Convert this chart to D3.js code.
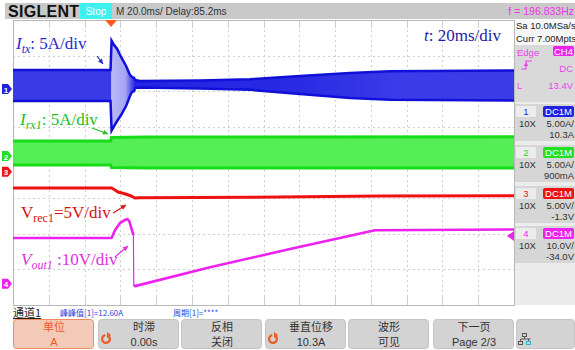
<!DOCTYPE html>
<html><head><meta charset="utf-8">
<script src="https://cdn.jsdelivr.net/npm/d3@7"></script>
<style>
html,body{margin:0;padding:0;background:#fff;}
svg{display:block;}
</style></head>
<body>
<svg id="scope" width="575" height="350"></svg>
<script>
// ---- acquisition settings ----
const timeDomain = [-54.8, 225.2];          // ms, trigger at t = 0 (20 ms/div, 14 div)
const timePerDiv = 20;
const channelIds = ["1", "2", "3", "4"];
const channelScales = [5, 5, 5, 10];        // units per division
const channelOffsets = [10.3, 0.9, -1.3, -34.0];
const channelColors = ["#2121e0", "#22e022", "#ee1111", "#ee22ee"];
const channelScaleText = ["5.00A/", "5.00A/", "5.00V/", "10.0V/"];
const channelOffsetText = ["10.3A", "900mA", "-1.3V", "-34.0V"];
const triggerLevel = 13.4;                  // V on CH4

// ---- CH1: Itx envelope (A) ----
const itxTime  = [-54.8, -0.3, 0.3, 1.7, 3.4, 5.6, 8.4, 10.6, 11.7, 12.9, 13.4, 16.2, 49.7, 77.7, 105.6, 133.6, 155.9, 225.2];
const itxUpper = [2.68, 2.68, 6.8, 6.19, 5.63, 4.51, 3.25, 1.98, 1.70, 1.56, 1.28, 1.14, 1.20, 1.40, 1.85, 2.25, 2.50, 2.60];
const itxLower = [-1.67, -1.67, -5.8, -5.18, -4.48, -3.64, -2.37, -0.97, -0.41, -0.27, 0.15, 0.22, 0.10, -0.10, -0.70, -1.25, -1.50, -1.60];

// ---- CH2: Irx1 envelope (A) ----
const irxTime  = [-54.8, -0.2, 0.2, 20.0, 225.2];
const irxUpper = [2.12, 2.12, 2.60, 2.68, 2.72];
const irxLower = [-1.25, -1.25, -1.60, -1.67, -1.67];

// ---- CH3: Vrec1 (V) ----
const vrecTime  = [-54.8, 0.3, 2.2, 3.9, 6.1, 8.9, 11.2, 12.3, 13.4, 16.2, 77.7, 150.3, 225.2];
const vrecValue = [-2.28, -2.28, -2.56, -2.84, -2.98, -3.19, -3.40, -3.54, -3.68, -3.65, -3.58, -3.40, -3.36];

// ---- CH4: Vout1 (V) ----
const voutTime  = [-54.8, 0.3, 2.2, 5.0, 7.8, 9.2, 10.3, 11.5, 12.5, 12.7, 13.4, 55.3, 100.0, 147.5, 225.2];
const voutValue = [12.8, 12.8, 15.0, 17.0, 17.9, 18.1, 17.4, 15.3, 13.6, -0.4, -0.7, 4.6, 9.7, 15.0, 15.2];

// ---- screen ----
const plot = {left: 13, right: 514, top: 20, bottom: 305};
const svg = d3.select("#scope");
const x = d3.scaleLinear().domain(timeDomain).range([plot.left, plot.right]);
const yScales = channelScales.map((s, i) =>
  d3.scaleLinear().domain([-4 * s - channelOffsets[i], 4 * s - channelOffsets[i]]).range([plot.bottom, plot.top]));
const yDiv = d3.scaleLinear().domain([-4, 4]).range([plot.bottom, plot.top]);
const sans = "Liberation Sans, Arial, sans-serif";

// header bar
svg.append("rect").attr("x", 5).attr("y", 3).attr("width", 570).attr("height", 16).attr("fill", "#c9c9c9");
svg.append("text").attr("x", 8).attr("y", 17).attr("font-family", sans)
  .attr("font-weight", "bold").attr("font-size", 16).attr("fill", "#111").attr("letter-spacing", 0.3).text("SIGLENT");
svg.append("rect").attr("x", 80).attr("y", 3).attr("width", 32).attr("height", 16).attr("fill", "#3ff0f0");
svg.append("text").attr("x", 96).attr("y", 15).attr("text-anchor", "middle").attr("font-family", sans)
  .attr("font-size", 10).attr("fill", "#fff").text("Stop");
svg.append("text").attr("x", 116).attr("y", 15).attr("font-family", sans)
  .attr("font-size", 10).attr("fill", "#333").text("M 20.0ms/ Delay:85.2ms");
svg.append("text").attr("x", 574).attr("y", 15).attr("text-anchor", "end").attr("font-family", sans)
  .attr("font-size", 10.5).attr("fill", "#ee33ee").text("f = 196.833Hz");

// plot background and grid
svg.append("rect").attr("x", plot.left).attr("y", plot.top).attr("width", plot.right - plot.left)
  .attr("height", plot.bottom - plot.top).attr("fill", "#fff");
const gridTimes = d3.range(0, 15).map(k => timeDomain[0] + k * timePerDiv);
const gridDivs = d3.range(-4, 5);
const grid = svg.append("g").attr("stroke", "#cfcfcf").attr("stroke-width", 1).attr("stroke-dasharray", "2,3");
grid.selectAll("line.v").data(gridTimes.slice(1, -1)).join("line")
  .attr("x1", d => Math.round(x(d)) + 0.5).attr("x2", d => Math.round(x(d)) + 0.5)
  .attr("y1", plot.top).attr("y2", plot.bottom);
grid.selectAll("line.h").data(gridDivs.slice(1, -1)).join("line").attr("class", "h")
  .attr("y1", d => Math.round(yDiv(d)) + 0.5).attr("y2", d => Math.round(yDiv(d)) + 0.5)
  .attr("x1", plot.left).attr("x2", plot.right);
// tick marks on the top and bottom border
const ticks = svg.append("g").attr("stroke", "#cfcfcf");
gridTimes.forEach(t => {
  const px = Math.round(x(t)) + 0.5;
  ticks.append("line").attr("x1", px).attr("x2", px).attr("y1", plot.top).attr("y2", plot.top + 8);
  ticks.append("line").attr("x1", px).attr("x2", px).attr("y1", plot.bottom - 8).attr("y2", plot.bottom);
});
svg.append("rect").attr("x", plot.left + 0.5).attr("y", plot.top + 0.5).attr("width", plot.right - plot.left)
  .attr("height", plot.bottom - plot.top).attr("fill", "none").attr("stroke", "#b8b8b8");

const traces = svg.append("g");
const defs = svg.append("defs");
const envelope = (times, upper, lower) => times.map((t, i) => ({t, u: upper[i], l: lower[i]}));

// CH2 band
const irx = envelope(irxTime, irxUpper, irxLower);
const y2 = yScales[1];
traces.append("path").datum(irx)
  .attr("d", d3.area().x(d => x(d.t)).y0(d => y2(d.l)).y1(d => y2(d.u)))
  .attr("fill", "#55ee55");
["u", "l"].forEach(k => traces.append("path").datum(irx)
  .attr("d", d3.line().x(d => x(d.t)).y(d => y2(d[k]))).attr("fill", "none")
  .attr("stroke", "#18dc18").attr("stroke-width", 3));

// CH1 band, lighter inside the transient
const itx = envelope(itxTime, itxUpper, itxLower);
const y1 = yScales[0];
const grad = defs.append("linearGradient").attr("id", "itxFill").attr("gradientUnits", "userSpaceOnUse")
  .attr("x1", plot.left).attr("x2", plot.right).attr("y1", 0).attr("y2", 0);
const gspan = plot.right - plot.left;
grad.append("stop").attr("offset", 0).attr("stop-color", "#3a3ae6");
[[x(-0.3), "#3a3ae6"], [x(0.3), "#b9b9f7"], [x(8.0), "#a4a4f2"], [x(11.5), "#5050ea"], [x(13.4), "#2424e2"], [x(105), "#2a2ae4"], [x(160), "#3b3be8"]]
  .forEach(([px, c]) => grad.append("stop").attr("offset", (px - plot.left) / gspan).attr("stop-color", c));
traces.append("path").datum(itx)
  .attr("d", d3.area().x(d => x(d.t)).y0(d => y1(d.l)).y1(d => y1(d.u)))
  .attr("fill", "url(#itxFill)");
["u", "l"].forEach(k => traces.append("path").datum(itx)
  .attr("d", d3.line().x(d => x(d.t)).y(d => y1(d[k]))).attr("fill", "none")
  .attr("stroke", "#1010d8").attr("stroke-width", 2.5));

// CH3 line
const y3 = yScales[2];
const vrec = vrecTime.map((t, i) => ({t, v: vrecValue[i]}));
traces.append("path").datum(vrec)
  .attr("d", d3.line().x(d => x(d.t)).y(d => y3(d.v))).attr("fill", "none")
  .attr("stroke", "#ee1111").attr("stroke-width", 3);

// CH4 line: thin fast edge, thick elsewhere
const y4 = yScales[3];
const vout = voutTime.map((t, i) => ({t, v: voutValue[i]}));
const voutLine = d3.line().x(d => x(d.t)).y(d => y4(d.v));
traces.append("path").datum(vout).attr("d", voutLine).attr("fill", "none")
  .attr("stroke", "#ee22ee").attr("stroke-width", 1.2);
[vout.filter(d => d.t <= 12.5), vout.filter(d => d.t >= 12.7)].forEach(seg =>
  traces.append("path").datum(seg).attr("d", voutLine).attr("fill", "none")
    .attr("stroke", "#ee22ee").attr("stroke-width", 2.6).attr("stroke-linejoin", "round"));

// channel ground markers on the left edge
channelIds.forEach((id, i) => {
  const cy = yScales[i](0);
  svg.append("path").attr("d", `M2,${cy - 5}H8L12,${cy}L8,${cy + 5}H2Z`).attr("fill", channelColors[i]);
  svg.append("text").attr("x", 6).attr("y", cy + 3.5).attr("text-anchor", "middle")
    .attr("font-family", sans).attr("font-size", 8).attr("font-weight", "bold")
    .attr("fill", "#fff").text(id);
});

// trigger position and level markers
svg.append("path").attr("d", `M${x(0) - 6},${plot.top}H${x(0) + 6}L${x(0)},${plot.top + 7}Z`).attr("fill", "#ff5a1e");
const tl = yScales[3](triggerLevel);
svg.append("path").attr("d", `M${plot.right},${tl - 5}V${tl + 5}L${plot.right - 7},${tl}Z`).attr("fill", "#ee22ee");

// annotations
const serif = "Liberation Serif, Times New Roman, serif";
function label(px, py, color, parts) {
  const t = svg.append("text").attr("x", px).attr("y", py).attr("font-family", serif).attr("font-size", 17).attr("fill", color);
  parts.forEach(p => {
    const s = t.append("tspan").text(p.text);
    if (p.italic) s.attr("font-style", "italic");
    if (p.sub) s.attr("font-size", 12).attr("dy", 4);
    if (p.up) s.attr("dy", -4);
  });
}
label(16, 49, "#2a2acc", [{text: "I", italic: true}, {text: "tx", italic: true, sub: true}, {text: ": 5A/div", up: true}]);
label(20, 125, "#22c022", [{text: "I", italic: true}, {text: "rx1", italic: true, sub: true}, {text: ": 5A/div", up: true}]);
label(21, 218, "#d81010", [{text: "V"}, {text: "rec1", sub: true}, {text: "=5V/div", up: true}]);
label(21, 265, "#e030e0", [{text: "V", italic: true}, {text: "out1", italic: true, sub: true}, {text: " :10V/div", up: true}]);
label(424, 41, "#1c1ca8", [{text: "t", italic: true}, {text: ": 20ms/div"}]);

function arrow(x1, y1a, x2, y2a, color) {
  const ang = Math.atan2(y2a - y1a, x2 - x1);
  svg.append("line").attr("x1", x1).attr("y1", y1a).attr("x2", x2).attr("y2", y2a).attr("stroke", color).attr("stroke-width", 1.2);
  const a = 5, w = 2.5;
  const bx = x2 - a * Math.cos(ang), by = y2a - a * Math.sin(ang);
  svg.append("path").attr("d", `M${x2},${y2a}L${bx - w * Math.sin(ang)},${by + w * Math.cos(ang)}L${bx + w * Math.sin(ang)},${by - w * Math.cos(ang)}Z`)
    .attr("fill", color);
}
arrow(97, 56, 103, 64, "#2a2acc");
arrow(92, 128, 108, 134, "#22c022");
arrow(113, 213, 126, 205, "#d81010");
arrow(115, 257, 128, 246, "#e030e0");

// right-hand status panel
const panel = svg.append("g").attr("font-family", sans).attr("font-size", 9.5);
panel.append("rect").attr("x", 515).attr("y", 20).attr("width", 60).attr("height", 285).attr("fill", "#ececec");
panel.append("rect").attr("x", 515).attr("y", 20).attr("width", 60).attr("height", 25).attr("fill", "#f7f7f7");
panel.append("text").attr("x", 516).attr("y", 29).attr("fill", "#222").text("Sa 10.0MSa/s");
panel.append("text").attr("x", 516).attr("y", 42).attr("fill", "#222").text("Curr 7.00Mpts");
panel.append("rect").attr("x", 515).attr("y", 45).attr("width", 60).attr("height", 57).attr("fill", "#d9d9d9");
panel.append("text").attr("x", 517).attr("y", 56).attr("fill", "#ee44ee").text("Edge");
panel.append("rect").attr("x", 553).attr("y", 46).attr("width", 21).attr("height", 10).attr("rx", 2).attr("fill", "#ee22ee");
panel.append("text").attr("x", 563.5).attr("y", 54.5).attr("text-anchor", "middle").attr("fill", "#fff").text("CH4");
panel.append("path").attr("d", "M521,69H526V61H532").attr("fill", "none").attr("stroke", "#ee44ee").attr("stroke-width", 1.2);
panel.append("path").attr("d", "M523.5,66L526,62.5L528.5,66Z").attr("fill", "#ee44ee");
panel.append("text").attr("x", 573).attr("y", 72).attr("text-anchor", "end").attr("fill", "#ee44ee").text("DC");
panel.append("text").attr("x", 517).attr("y", 89).attr("fill", "#ee44ee").text("L");
panel.append("text").attr("x", 573).attr("y", 89).attr("text-anchor", "end").attr("fill", "#ee44ee").text("13.4V");

const boxTops = [104, 145, 186, 226];
channelIds.forEach((id, i) => {
  const top = boxTops[i];
  panel.append("rect").attr("x", 515).attr("y", top).attr("width", 60).attr("height", 37).attr("fill", "#d6d6d6");
  panel.append("rect").attr("x", 516).attr("y", top + 2).attr("width", 20).attr("height", 11).attr("fill", "#ececec");
  panel.append("text").attr("x", 526).attr("y", top + 11).attr("text-anchor", "middle").attr("fill", channelColors[i]).text(id);
  panel.append("rect").attr("x", 543).attr("y", top + 2).attr("width", 31).attr("height", 11).attr("rx", 2).attr("fill", channelColors[i]);
  panel.append("text").attr("x", 558.5).attr("y", top + 11).attr("text-anchor", "middle").attr("fill", "#fff").text("DC1M");
  panel.append("text").attr("x", 519).attr("y", top + 23).attr("fill", "#333").text("10X");
  panel.append("text").attr("x", 574).attr("y", top + 23).attr("text-anchor", "end").attr("fill", "#333").text(channelScaleText[i]);
  panel.append("text").attr("x", 574).attr("y", top + 34).attr("text-anchor", "end").attr("fill", "#333").text(channelOffsetText[i]);
});

// measurement line
const cjk = "Noto Sans CJK SC, sans-serif";
svg.append("text").attr("x", 13).attr("y", 317).attr("font-family", cjk).attr("font-size", 11).attr("fill", "#222")
  .attr("text-decoration", "underline").text("通道1");
svg.append("text").attr("x", 60).attr("y", 316).attr("font-family", cjk).attr("font-size", 8).attr("fill", "#2a44dd").text("峰峰值[1]=12.60A");
svg.append("text").attr("x", 173).attr("y", 316).attr("font-family", cjk).attr("font-size", 8).attr("fill", "#2a44dd").text("周期[1]=****");

// soft-key menu
const menuLabels = [["单位", "A"], ["时滞", "0.00s"], ["反相", "关闭"], ["垂直位移", "10.3A"], ["波形", "可见"], ["下一页", "Page 2/3"]];
const menuX = [13, 98, 181, 265, 348, 433];
const menuKnob = [false, true, false, true, false, false];
menuLabels.forEach((lab, i) => {
  const first = i === 0;
  svg.append("rect").attr("x", menuX[i] + 0.5).attr("y", 319.5).attr("width", 80).attr("height", 29).attr("rx", 3)
    .attr("fill", first ? "#f3c9b8" : "#d3d3d3").attr("stroke", first ? "#f08a60" : "#c4c4c4");
  const cx = menuX[i] + 41 + (menuKnob[i] ? 5 : 0);
  const col = first ? "#f05a22" : "#333";
  svg.append("text").attr("x", cx).attr("y", 331).attr("text-anchor", "middle").attr("font-family", cjk)
    .attr("font-size", 11).attr("fill", col).text(lab[0]);
  svg.append("text").attr("x", cx).attr("y", 346).attr("text-anchor", "middle").attr("font-family", /[A-Za-z0-9]/.test(lab[1]) ? sans : cjk)
    .attr("font-size", 11).attr("fill", col).text(lab[1]);
  if (menuKnob[i]) {
    const kx = menuX[i] + 8, ky = 339;
    svg.append("path").attr("d", d3.arc()({innerRadius: 2.8, outerRadius: 5, startAngle: 0.6, endAngle: 2 * Math.PI - 0.2}))
      .attr("transform", `translate(${kx},${ky})`).attr("fill", "#ee5a24");
    svg.append("path").attr("d", `M${kx + 1},${ky - 7}L${kx + 5},${ky - 4}L${kx + 1},${ky - 1}Z`).attr("fill", "#ee5a24");
  }
});
svg.append("rect").attr("x", 516.5).attr("y", 319.5).attr("width", 58).attr("height", 29).attr("rx", 3).attr("fill", "#d3d3d3").attr("stroke", "#c4c4c4");
const net = svg.append("g").attr("stroke", "#555").attr("fill", "none").attr("stroke-width", 1);
net.append("rect").attr("x", 522.5).attr("y", 333.5).attr("width", 4).attr("height", 3);
net.append("path").attr("d", "M524.5,336.5V339M520.5,339H530.5M520.5,339V341M528.5,339V341");
net.append("rect").attr("x", 518.5).attr("y", 341.5).attr("width", 4).attr("height", 3);
net.append("rect").attr("x", 526.5).attr("y", 341.5).attr("width", 4).attr("height", 3).attr("stroke", "#22bbcc");
</script>
</body></html>
